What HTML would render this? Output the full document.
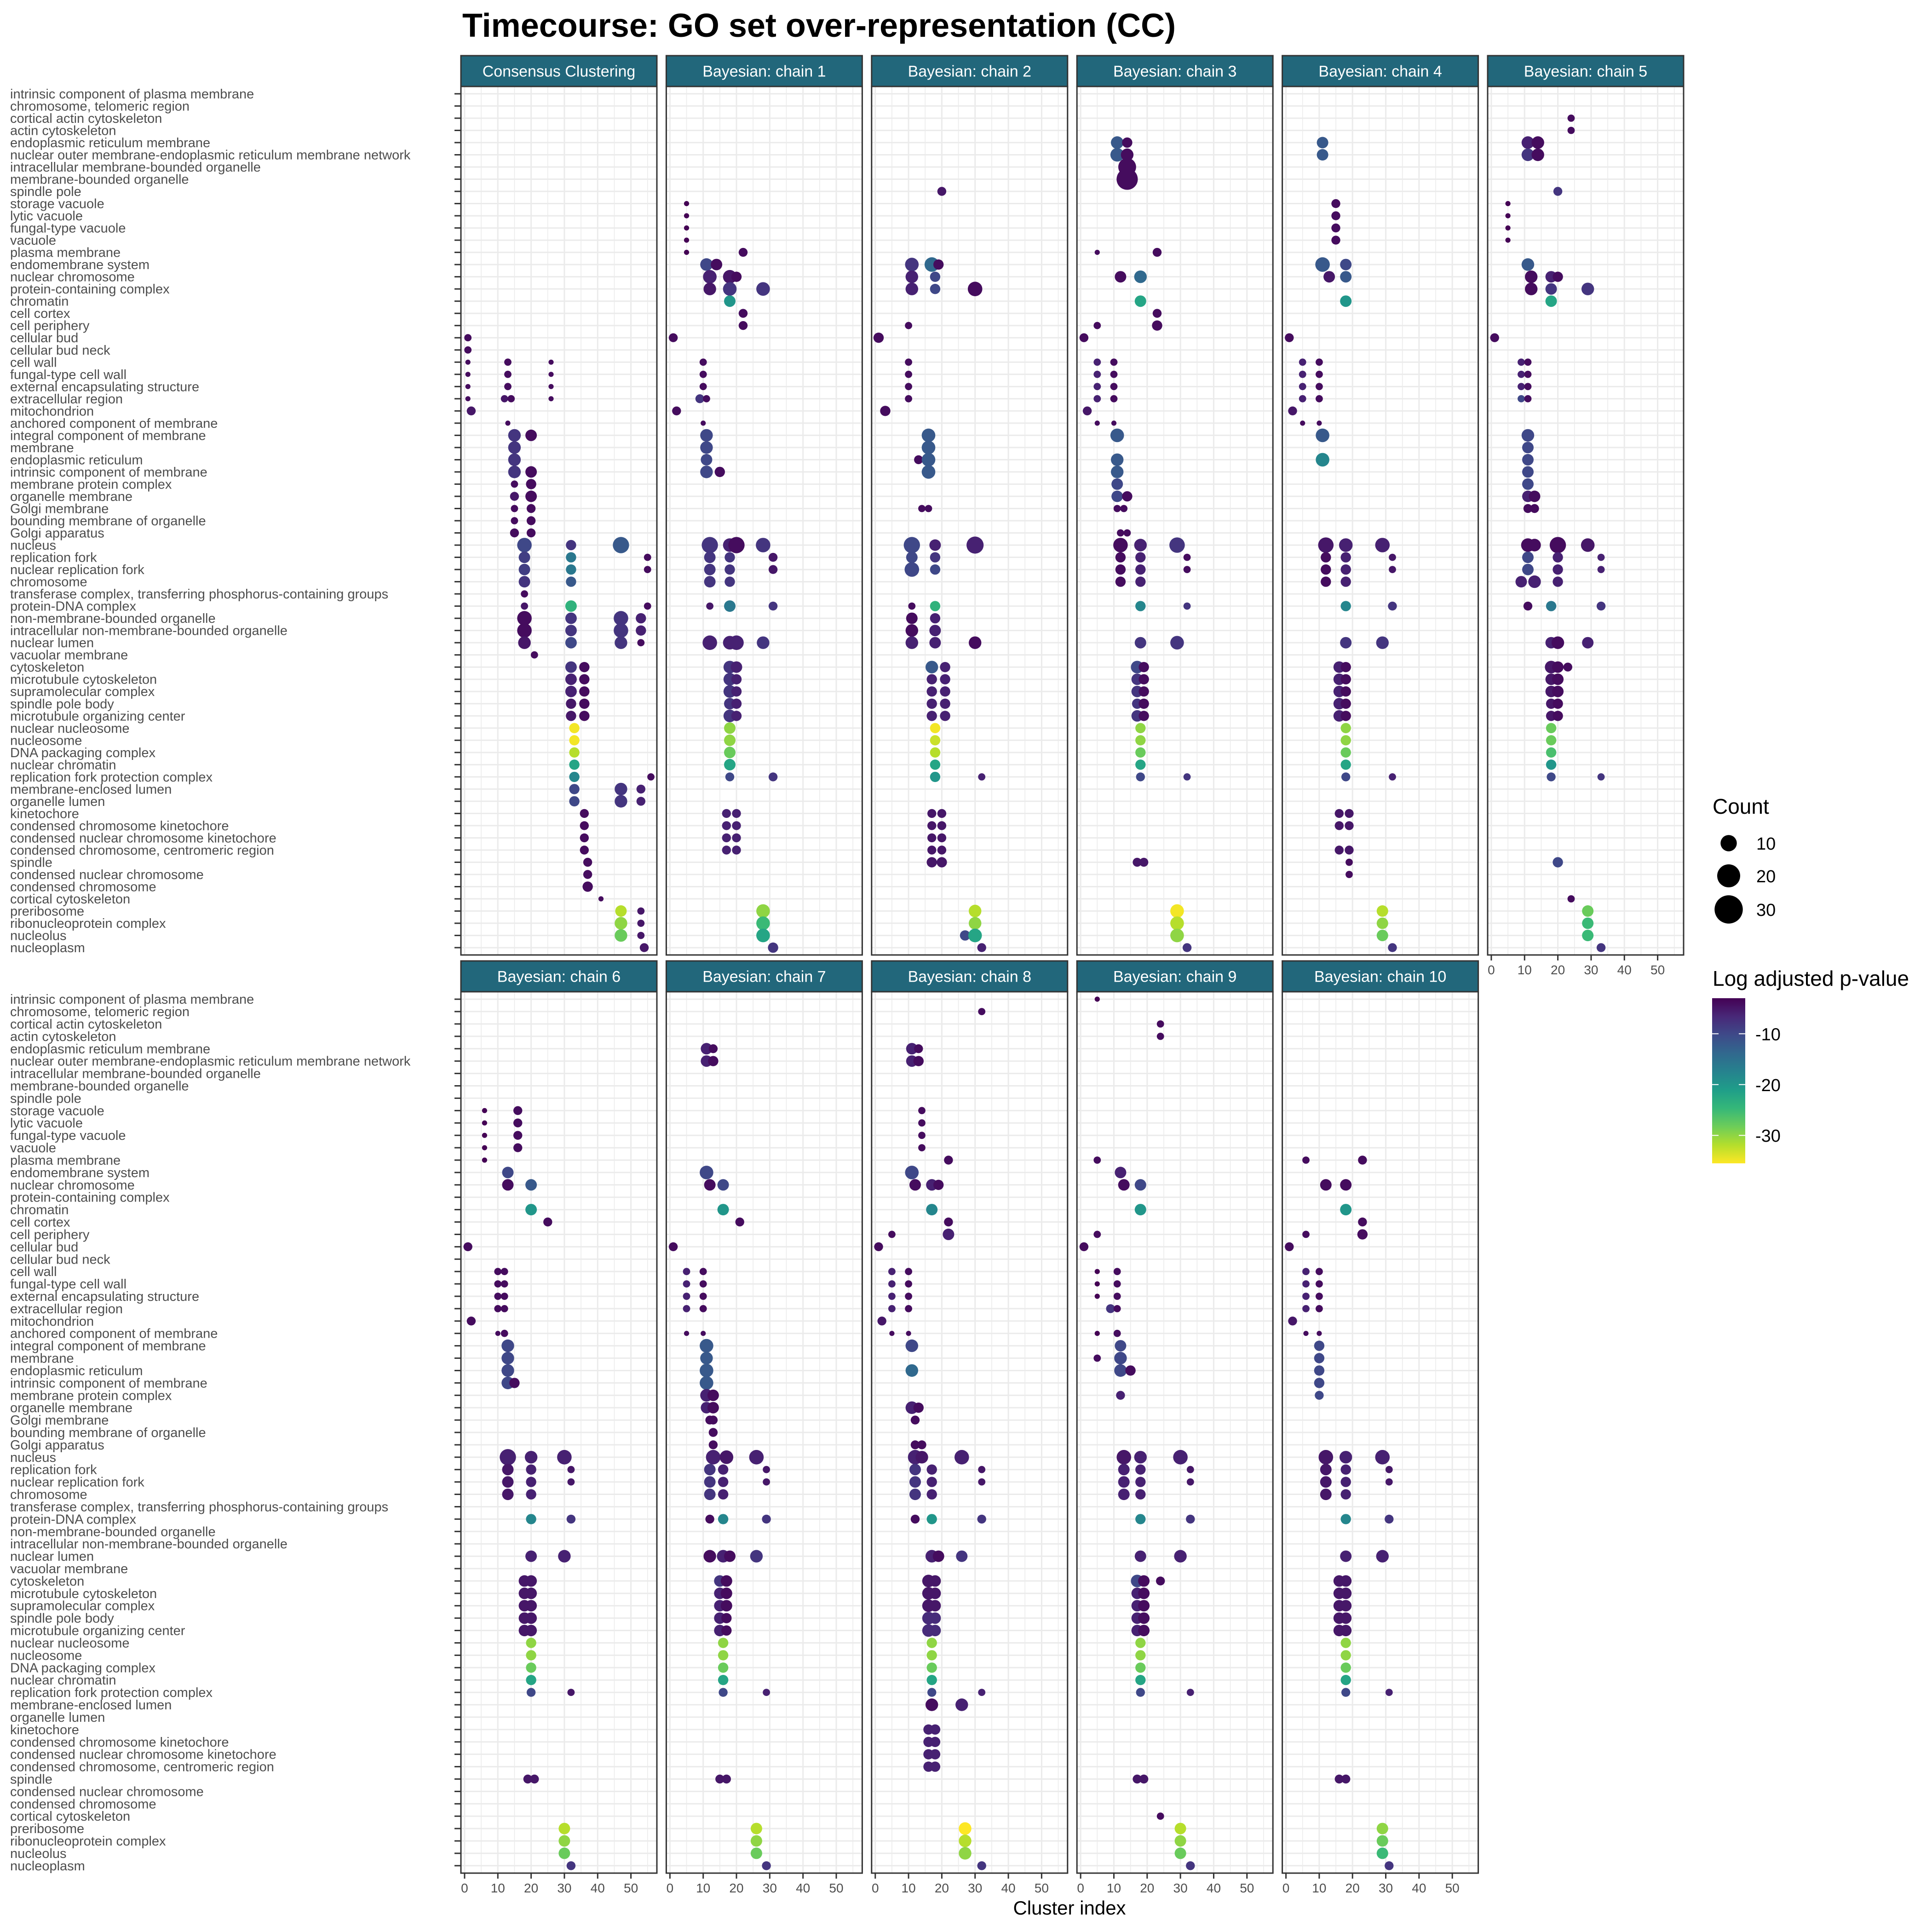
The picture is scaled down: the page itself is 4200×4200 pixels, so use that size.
<!DOCTYPE html>
<html><head><meta charset="utf-8"><style>
html,body{margin:0;padding:0;background:#fff}
svg{display:block}
text{font-family:"Liberation Sans",sans-serif}
</style></head><body>
<svg id="chart" width="4200" height="4200" viewBox="0 0 4200 4200" xmlns="http://www.w3.org/2000/svg">
<rect x="0" y="0" width="4200" height="4200" fill="#fff"/>
<text x="1005" y="80" font-size="72" font-weight="bold" fill="#000">Timecourse: GO set over-representation (CC)</text>
<text x="2325" y="4162" font-size="42" text-anchor="middle" fill="#000">Cluster index</text>
<g id="panels"></g>
<g id="legend"></g>
</svg>
<script>
const categories=["intrinsic component of plasma membrane","chromosome, telomeric region","cortical actin cytoskeleton","actin cytoskeleton","endoplasmic reticulum membrane","nuclear outer membrane-endoplasmic reticulum membrane network","intracellular membrane-bounded organelle","membrane-bounded organelle","spindle pole","storage vacuole","lytic vacuole","fungal-type vacuole","vacuole","plasma membrane","endomembrane system","nuclear chromosome","protein-containing complex","chromatin","cell cortex","cell periphery","cellular bud","cellular bud neck","cell wall","fungal-type cell wall","external encapsulating structure","extracellular region","mitochondrion","anchored component of membrane","integral component of membrane","membrane","endoplasmic reticulum","intrinsic component of membrane","membrane protein complex","organelle membrane","Golgi membrane","bounding membrane of organelle","Golgi apparatus","nucleus","replication fork","nuclear replication fork","chromosome","transferase complex, transferring phosphorus-containing groups","protein-DNA complex","non-membrane-bounded organelle","intracellular non-membrane-bounded organelle","nuclear lumen","vacuolar membrane","cytoskeleton","microtubule cytoskeleton","supramolecular complex","spindle pole body","microtubule organizing center","nuclear nucleosome","nucleosome","DNA packaging complex","nuclear chromatin","replication fork protection complex","membrane-enclosed lumen","organelle lumen","kinetochore","condensed chromosome kinetochore","condensed nuclear chromosome kinetochore","condensed chromosome, centromeric region","spindle","condensed nuclear chromosome","condensed chromosome","cortical cytoskeleton","preribosome","ribonucleoprotein complex","nucleolus","nucleoplasm"];
const panelTitles=["Consensus Clustering","Bayesian: chain 1","Bayesian: chain 2","Bayesian: chain 3","Bayesian: chain 4","Bayesian: chain 5","Bayesian: chain 6","Bayesian: chain 7","Bayesian: chain 8","Bayesian: chain 9","Bayesian: chain 10"];
const xTicks=[0,10,20,30,40,50];
const sizeLegend=[10,20,30];
const colorTicks=[-10,-20,-30];
// [row (1-based category), cluster, count, log adjusted p]
const consensus=[[21,1,2,-4],[22,1,2,-4],[23,1,1,-4],[23,13,2,-4],[23,26,1,-4],[24,1,1,-4],[24,13,2,-4],[24,26,1,-4],[25,1,1,-4],[25,13,2,-4],[25,26,1,-4],[26,1,1,-4],[26,12,2,-5],[26,14,2,-4],[26,26,1,-4],[27,2,3,-5],[28,13,1,-4],[29,15,6,-8],[29,20,5,-4],[30,15,6,-8],[31,15,6,-8],[32,15,6,-8],[32,20,5,-4],[33,15,2,-4],[33,20,4,-4],[34,15,3,-5],[34,20,5,-4],[35,15,2,-4],[35,20,3,-4],[36,15,2,-4],[36,20,3,-4],[37,15,3,-4],[37,20,3,-4],[38,18,8,-10],[38,32,4,-8],[38,47,10,-12],[39,18,5,-9],[39,32,4,-16],[39,55,2,-4],[40,18,5,-9],[40,32,4,-16],[40,55,2,-4],[41,18,5,-8],[41,32,4,-12],[42,18,2,-4],[43,18,2,-5],[43,32,5,-24],[43,55,2,-4],[44,18,8,-4],[44,32,5,-8],[44,47,8,-8],[44,53,4,-6],[45,18,8,-4],[45,32,5,-8],[45,47,8,-8],[45,53,4,-6],[46,18,6,-5],[46,32,5,-10],[46,47,6,-8],[46,53,2,-4],[47,21,2,-4],[48,32,5,-8],[48,36,4,-4],[49,32,5,-6],[49,36,4,-4],[50,32,5,-6],[50,36,4,-4],[51,32,4,-5],[51,36,4,-4],[52,32,4,-5],[52,36,4,-4],[53,33,4,-35],[54,33,4,-35],[55,33,4,-32],[56,33,4,-22],[57,33,4,-18],[57,56,2,-4],[58,33,4,-10],[58,47,6,-8],[58,53,3,-6],[59,33,4,-10],[59,47,6,-8],[59,53,3,-6],[60,36,3,-4],[61,36,3,-4],[62,36,3,-4],[63,36,3,-4],[64,37,3,-4],[65,37,3,-4],[66,37,4,-4],[67,41,1,-4],[68,47,5,-32],[68,53,2,-5],[69,47,6,-30],[69,53,2,-5],[70,47,6,-28],[70,53,2,-5],[71,54,3,-5]];
const chain1=[[10,5,1,-3],[11,5,1,-3],[12,5,1,-3],[13,5,1,-3],[14,5,1,-3],[14,22,3,-4],[15,11,6,-10],[15,14,5,-4],[16,12,7,-6],[16,18,7,-5],[16,20,4,-4],[17,12,6,-5],[17,18,7,-8],[17,28,7,-8],[18,18,5,-20],[19,22,3,-4],[20,22,3,-4],[21,1,3,-4],[23,10,2,-4],[24,10,2,-4],[25,10,2,-4],[26,9,3,-8],[26,11,2,-4],[27,2,3,-4],[28,10,1,-4],[29,11,6,-10],[30,11,6,-10],[31,11,5,-10],[32,11,6,-10],[32,15,4,-4],[38,12,10,-8],[38,18,7,-6],[38,20,10,-4],[38,28,8,-8],[39,12,5,-8],[39,18,4,-8],[39,31,3,-5],[40,12,5,-8],[40,18,4,-8],[40,31,3,-5],[41,12,5,-8],[41,18,4,-8],[43,12,2,-5],[43,18,5,-16],[43,31,3,-8],[46,12,8,-6],[46,18,7,-6],[46,20,8,-6],[46,28,6,-8],[48,18,6,-8],[48,20,5,-6],[49,18,6,-8],[49,20,4,-6],[50,18,6,-8],[50,20,4,-6],[51,18,5,-8],[51,20,4,-6],[52,18,6,-8],[52,20,4,-6],[53,18,5,-30],[54,18,5,-30],[55,18,5,-28],[56,18,5,-22],[57,18,3,-10],[57,31,3,-8],[60,17,3,-6],[60,20,3,-6],[61,17,3,-6],[61,20,3,-6],[62,17,3,-6],[62,20,3,-6],[63,17,3,-6],[63,20,3,-6],[68,28,7,-30],[69,28,7,-25],[70,28,7,-22],[71,31,4,-8]];
const chain2=[[9,20,3,-5],[15,11,7,-8],[15,17,8,-14],[15,19,4,-4],[16,11,6,-6],[16,18,4,-10],[17,11,6,-6],[17,18,4,-10],[17,30,8,-4],[20,10,2,-4],[21,1,4,-4],[23,10,2,-4],[24,10,2,-4],[25,10,2,-4],[26,10,2,-4],[27,3,4,-4],[29,16,7,-12],[30,16,7,-12],[31,13,3,-4],[31,16,7,-12],[32,16,7,-12],[35,14,2,-4],[35,16,2,-4],[38,11,10,-10],[38,18,5,-6],[38,30,11,-6],[39,11,5,-10],[39,18,4,-8],[40,11,8,-10],[40,18,4,-10],[43,11,2,-4],[43,18,4,-24],[44,11,5,-4],[44,18,4,-6],[45,11,6,-4],[45,18,5,-6],[46,11,6,-6],[46,18,5,-6],[46,30,6,-4],[48,17,6,-12],[48,21,4,-6],[49,17,4,-6],[49,21,4,-6],[50,17,4,-6],[50,21,4,-6],[51,17,4,-6],[51,21,4,-6],[52,17,4,-6],[52,21,4,-6],[53,18,4,-35],[54,18,4,-33],[55,18,4,-32],[56,18,4,-22],[57,18,4,-20],[57,32,2,-6],[60,17,3,-5],[60,20,3,-5],[61,17,3,-5],[61,20,3,-5],[62,17,3,-5],[62,20,3,-5],[63,17,3,-5],[63,20,3,-5],[64,17,4,-5],[64,20,4,-5],[68,30,6,-32],[69,30,6,-30],[70,27,4,-10],[70,30,7,-22],[71,32,3,-6]];
const chain3=[[5,11,6,-12],[5,14,4,-4],[6,11,7,-12],[6,14,6,-4],[7,14,12,-4],[8,14,17,-4],[14,5,1,-4],[14,23,3,-4],[16,12,5,-4],[16,18,6,-14],[18,18,5,-22],[19,23,3,-4],[20,5,2,-4],[20,23,4,-4],[21,1,3,-4],[23,5,2,-6],[23,10,2,-4],[24,5,2,-6],[24,10,2,-4],[25,5,2,-6],[25,10,2,-4],[26,5,2,-6],[26,10,2,-4],[27,2,3,-5],[28,5,1,-4],[28,10,1,-4],[29,11,7,-12],[31,11,6,-12],[32,11,6,-12],[33,11,5,-10],[34,11,5,-10],[34,14,4,-4],[35,11,2,-4],[35,13,2,-4],[37,12,2,-4],[37,14,2,-4],[38,12,8,-4],[38,18,6,-6],[38,29,9,-8],[39,12,4,-4],[39,18,4,-6],[39,32,2,-4],[40,12,4,-4],[40,18,4,-6],[40,32,2,-4],[41,12,4,-4],[41,18,4,-6],[43,18,4,-18],[43,32,2,-8],[46,18,5,-8],[46,29,7,-8],[48,17,6,-10],[48,19,4,-4],[49,17,5,-8],[49,19,4,-4],[50,17,5,-8],[50,19,4,-4],[51,17,4,-8],[51,19,4,-4],[52,17,5,-8],[52,19,4,-4],[53,18,4,-30],[54,18,4,-30],[55,18,4,-28],[56,18,4,-22],[57,18,3,-10],[57,32,2,-8],[64,17,3,-5],[64,19,3,-5],[68,29,7,-35],[69,29,7,-32],[70,29,7,-30],[71,32,3,-8]];
const chain4=[[5,11,5,-12],[6,11,5,-12],[10,15,3,-4],[11,15,3,-4],[12,15,3,-4],[13,15,3,-4],[15,11,8,-12],[15,18,5,-10],[16,13,5,-5],[16,18,5,-12],[18,18,5,-20],[21,1,3,-4],[23,5,2,-6],[23,10,2,-4],[24,5,2,-6],[24,10,2,-4],[25,5,2,-6],[25,10,2,-4],[26,5,2,-6],[26,10,2,-4],[27,2,3,-5],[28,5,1,-4],[28,10,1,-4],[29,11,7,-12],[31,11,7,-18],[38,12,9,-5],[38,18,7,-6],[38,29,8,-6],[39,12,4,-4],[39,18,4,-6],[39,32,2,-5],[40,12,4,-4],[40,18,4,-6],[40,32,2,-5],[41,12,4,-4],[41,18,4,-6],[43,18,4,-18],[43,32,3,-8],[46,18,5,-8],[46,29,6,-8],[48,16,5,-6],[48,18,4,-4],[49,16,5,-6],[49,18,4,-4],[50,16,5,-6],[50,18,4,-4],[51,16,5,-6],[51,18,4,-4],[52,16,5,-6],[52,18,4,-4],[53,18,4,-30],[54,18,4,-30],[55,18,4,-28],[56,18,4,-22],[57,18,3,-10],[57,32,2,-6],[60,16,3,-5],[60,19,3,-5],[61,16,3,-5],[61,19,3,-5],[63,16,3,-5],[63,19,3,-5],[64,19,2,-4],[65,19,2,-4],[68,29,5,-32],[69,29,5,-30],[70,29,5,-28],[71,32,3,-8]];
const chain5=[[3,24,2,-4],[4,24,2,-4],[5,11,6,-6],[5,14,6,-4],[6,11,6,-8],[6,14,6,-4],[9,20,3,-8],[10,5,1,-3],[11,5,1,-3],[12,5,1,-3],[13,5,1,-3],[15,11,6,-12],[16,12,6,-4],[16,18,5,-6],[16,20,4,-4],[17,12,6,-4],[17,18,5,-8],[17,29,6,-8],[18,18,5,-22],[21,1,3,-4],[23,9,2,-6],[23,11,2,-4],[24,9,2,-6],[24,11,2,-4],[25,9,2,-6],[25,11,2,-4],[26,9,2,-10],[26,11,2,-4],[29,11,6,-10],[30,11,5,-10],[31,11,5,-10],[32,11,5,-10],[33,11,5,-10],[34,11,5,-6],[34,13,5,-4],[35,11,3,-4],[35,13,3,-4],[38,11,7,-4],[38,13,6,-4],[38,20,10,-4],[38,29,7,-5],[39,11,5,-10],[39,20,4,-6],[39,33,2,-6],[40,11,5,-10],[40,20,4,-6],[40,33,2,-6],[41,9,5,-6],[41,13,6,-6],[41,20,4,-6],[43,11,3,-4],[43,18,4,-16],[43,33,3,-8],[46,18,5,-6],[46,20,6,-4],[46,29,5,-6],[48,18,6,-5],[48,20,5,-4],[48,23,3,-4],[49,18,5,-5],[49,20,5,-4],[50,18,5,-5],[50,20,5,-4],[51,18,4,-5],[51,20,4,-4],[52,18,4,-5],[52,20,4,-4],[53,18,4,-28],[54,18,4,-28],[55,18,4,-26],[56,18,4,-20],[57,18,3,-10],[57,33,2,-8],[64,20,4,-10],[67,24,2,-4],[68,29,5,-28],[69,29,5,-25],[70,29,5,-25],[71,33,3,-8]];
const chain6=[[10,6,1,-3],[10,16,3,-4],[11,6,1,-3],[11,16,3,-4],[12,6,1,-3],[12,16,3,-4],[13,6,1,-3],[13,16,3,-4],[14,6,1,-3],[15,13,5,-10],[16,13,5,-4],[16,20,5,-12],[18,20,5,-20],[19,25,3,-4],[21,1,3,-4],[23,10,2,-4],[23,12,2,-4],[24,10,2,-4],[24,12,2,-4],[25,10,2,-4],[25,12,2,-4],[26,10,2,-4],[26,12,2,-4],[27,2,3,-4],[28,10,1,-4],[28,12,2,-4],[29,13,6,-10],[30,13,6,-10],[31,13,6,-10],[32,13,6,-10],[32,15,4,-4],[38,13,10,-6],[38,20,6,-6],[38,30,8,-6],[39,13,5,-5],[39,20,4,-6],[39,32,2,-5],[40,13,5,-5],[40,20,4,-6],[40,32,2,-5],[41,13,5,-5],[41,20,4,-6],[43,20,4,-18],[43,32,3,-8],[46,20,5,-6],[46,30,6,-6],[48,18,5,-5],[48,20,5,-5],[49,18,5,-5],[49,20,5,-5],[50,18,5,-5],[50,20,5,-5],[51,18,5,-5],[51,20,5,-5],[52,18,5,-5],[52,20,5,-5],[53,20,4,-30],[54,20,4,-30],[55,20,4,-28],[56,20,4,-22],[57,20,3,-10],[57,32,2,-5],[64,19,3,-5],[64,21,3,-5],[68,30,5,-32],[69,30,5,-30],[70,30,5,-28],[71,32,3,-8]];
const chain7=[[5,11,5,-6],[5,13,3,-4],[6,11,5,-6],[6,13,4,-4],[15,11,7,-10],[16,12,5,-4],[16,16,5,-10],[18,16,5,-20],[19,21,3,-4],[21,1,3,-4],[23,5,2,-6],[23,10,2,-4],[24,5,2,-6],[24,10,2,-4],[25,5,2,-6],[25,10,2,-4],[26,5,2,-6],[26,10,2,-4],[28,5,1,-4],[28,10,1,-4],[29,11,7,-12],[30,11,6,-12],[31,11,7,-12],[32,11,7,-12],[33,11,6,-6],[33,13,5,-4],[34,11,5,-6],[34,13,5,-4],[35,12,3,-4],[35,13,3,-4],[36,13,3,-4],[37,13,3,-4],[38,13,8,-6],[38,17,7,-5],[38,26,8,-6],[39,12,5,-8],[39,16,4,-6],[39,29,2,-5],[40,12,5,-8],[40,16,4,-6],[40,29,2,-5],[41,12,5,-8],[41,16,4,-6],[43,12,3,-4],[43,16,4,-18],[43,29,3,-8],[46,12,6,-4],[46,16,6,-6],[46,18,5,-4],[46,26,6,-8],[48,15,5,-8],[48,17,5,-4],[49,15,5,-6],[49,17,5,-4],[50,15,5,-6],[50,17,5,-4],[51,15,5,-6],[51,17,4,-4],[52,15,5,-6],[52,17,4,-4],[53,16,4,-30],[54,16,4,-30],[55,16,4,-28],[56,16,4,-22],[57,16,3,-10],[57,29,2,-6],[64,15,3,-5],[64,17,3,-5],[68,26,5,-32],[69,26,5,-30],[70,26,5,-28],[71,29,3,-8]];
const chain8=[[2,32,2,-4],[5,11,5,-6],[5,13,3,-4],[6,11,5,-6],[6,13,4,-4],[10,14,2,-4],[11,14,2,-4],[12,14,2,-4],[13,14,2,-4],[14,22,3,-4],[15,11,7,-10],[16,12,5,-4],[16,17,5,-6],[16,19,4,-4],[18,17,5,-18],[19,22,3,-4],[20,5,2,-4],[20,22,5,-6],[21,1,3,-4],[23,5,2,-6],[23,10,2,-4],[24,5,2,-6],[24,10,2,-4],[25,5,2,-6],[25,10,2,-4],[26,5,2,-6],[26,10,2,-4],[27,2,3,-5],[28,5,1,-4],[28,10,1,-4],[29,11,6,-10],[31,11,6,-14],[34,11,6,-6],[34,13,4,-4],[35,12,3,-4],[37,12,3,-4],[37,14,3,-4],[38,12,8,-6],[38,14,6,-5],[38,26,8,-6],[39,12,5,-8],[39,17,4,-6],[39,32,2,-5],[40,12,5,-8],[40,17,4,-6],[40,32,2,-5],[41,12,5,-8],[41,17,4,-6],[43,12,3,-4],[43,17,4,-20],[43,32,3,-8],[46,17,6,-6],[46,19,5,-4],[46,26,5,-8],[48,16,6,-5],[48,18,5,-5],[49,16,6,-5],[49,18,5,-5],[50,16,6,-5],[50,18,5,-5],[51,16,6,-7],[51,18,5,-7],[52,16,6,-7],[52,18,5,-7],[53,17,4,-30],[54,17,4,-30],[55,17,4,-28],[56,17,4,-22],[57,17,3,-10],[57,32,2,-6],[58,17,6,-4],[58,26,6,-6],[60,16,4,-6],[60,18,4,-6],[61,16,4,-6],[61,18,4,-6],[62,16,4,-6],[62,18,4,-6],[63,16,4,-6],[63,18,4,-6],[68,27,6,-37],[69,27,6,-32],[70,27,6,-30],[71,32,3,-8]];
const chain9=[[1,5,1,-3],[3,24,2,-4],[4,24,2,-4],[14,5,2,-4],[15,12,5,-6],[16,13,5,-4],[16,18,5,-10],[18,18,5,-20],[20,5,2,-4],[21,1,3,-4],[23,5,1,-3],[23,11,2,-4],[24,5,1,-3],[24,11,2,-4],[25,5,1,-3],[25,11,2,-4],[26,9,3,-8],[26,11,2,-4],[28,5,1,-3],[28,11,2,-4],[29,12,5,-10],[30,5,2,-4],[30,12,6,-10],[31,12,6,-10],[31,15,4,-4],[33,12,3,-6],[38,13,8,-5],[38,18,6,-6],[38,30,8,-6],[39,13,5,-6],[39,18,4,-6],[39,33,2,-5],[40,13,5,-6],[40,18,4,-6],[40,33,2,-5],[41,13,5,-6],[41,18,4,-6],[43,18,4,-18],[43,33,3,-8],[46,18,5,-6],[46,30,6,-6],[48,17,6,-10],[48,19,5,-4],[48,24,3,-4],[49,17,5,-6],[49,19,5,-4],[50,17,5,-6],[50,19,5,-4],[51,17,5,-6],[51,19,5,-4],[52,17,5,-6],[52,19,5,-4],[53,18,4,-30],[54,18,4,-30],[55,18,4,-28],[56,18,4,-22],[57,18,3,-10],[57,33,2,-6],[64,17,3,-5],[64,19,3,-5],[67,24,2,-4],[68,30,5,-32],[69,30,5,-30],[70,30,5,-28],[71,33,3,-8]];
const chain10=[[14,6,2,-4],[14,23,3,-4],[16,12,5,-4],[16,18,5,-4],[18,18,5,-20],[19,23,3,-4],[20,6,2,-4],[20,23,4,-4],[21,1,3,-4],[23,6,2,-6],[23,10,2,-4],[24,6,2,-6],[24,10,2,-4],[25,6,2,-6],[25,10,2,-4],[26,6,2,-6],[26,10,2,-4],[27,2,3,-5],[28,6,1,-4],[28,10,1,-4],[29,10,4,-10],[30,10,4,-10],[31,10,4,-10],[32,10,4,-10],[33,10,3,-10],[38,12,8,-5],[38,18,6,-6],[38,29,8,-6],[39,12,5,-5],[39,18,4,-6],[39,31,2,-5],[40,12,5,-5],[40,18,4,-6],[40,31,2,-5],[41,12,5,-5],[41,18,4,-6],[43,18,4,-18],[43,31,3,-8],[46,18,5,-6],[46,29,6,-6],[48,16,5,-5],[48,18,5,-5],[49,16,5,-5],[49,18,5,-5],[50,16,5,-5],[50,18,5,-5],[51,16,5,-5],[51,18,5,-5],[52,16,5,-5],[52,18,5,-5],[53,18,4,-30],[54,18,4,-30],[55,18,4,-28],[56,18,4,-22],[57,18,3,-10],[57,31,2,-6],[64,16,3,-5],[64,18,3,-5],[68,29,5,-30],[69,29,5,-28],[70,29,5,-25],[71,31,3,-8]];
const panelData=[consensus,chain1,chain2,chain3,chain4,chain5,chain6,chain7,chain8,chain9,chain10];

const NS="http://www.w3.org/2000/svg";
const svg=document.getElementById('panels');
const legend=document.getElementById('legend');
function mk(tag,attrs,parent){const e=document.createElementNS(NS,tag);for(const k in attrs)e.setAttribute(k,attrs[k]);parent.appendChild(e);return e;}
const VIR=["#440154","#482878","#3E4A89","#31688E","#26828E","#1F9E89","#35B779","#6DCD59","#B4DE2C","#FDE725"];
const PMAX=-3,PMIN=-35.5;
function hex(h){return [parseInt(h.slice(1,3),16),parseInt(h.slice(3,5),16),parseInt(h.slice(5,7),16)];}
function color(v){let t=(PMAX-v)/(PMAX-PMIN);t=Math.max(0,Math.min(1,t));const f=t*(VIR.length-1);const i=Math.min(VIR.length-2,Math.floor(f));const u=f-i;const a=hex(VIR[i]),b=hex(VIR[i+1]);return `rgb(${a.map((c,k)=>Math.round(c+(b[k]-c)*u)).join(',')})`;}
function rad(c){return 5.6*Math.sqrt(c);}
const PW=426,XMIN=-1.1,XMAX=57.8;
const rowsLayout=[{st:121,top:188,bot:2076},{st:2089,top:2156,bot:4072}];
function colLeft(j){return 1002+j*446.4;}

panelTitles.forEach((title,p)=>{
  const r=p<6?0:1, j=p<6?p:p-6;
  const L=colLeft(j), R=rowsLayout[r];
  const H=R.bot-R.top;
  const n=categories.length;
  const unit=H/(n-1+1.2);
  const y=i=>R.top+(0.6+(i-1))*unit;
  const x=v=>L+(v-XMIN)/(XMAX-XMIN)*PW;
  const g=mk('g',{},svg);
  
  
  const bg=mk('rect',{x:L,y:R.top,width:PW,height:H,fill:'#fff'},g);
  
  
  for(let v=0;v<=55;v+=5){const ln=mk('line',{x1:x(v),x2:x(v),y1:R.top,y2:R.bot,stroke:'#ebebeb','stroke-width':v%10==0?3:1.6},g);
    
    }
  for(let i=1;i<=n;i++){const ln=mk('line',{x1:L,x2:L+PW,y1:y(i),y2:y(i),stroke:'#ebebeb','stroke-width':3},g);
    
    }
  panelData[p].forEach(d=>{
    const c=mk('circle',{cx:x(d[1]).toFixed(1),cy:y(d[0]).toFixed(1),r:rad(d[2]).toFixed(1),fill:color(d[3])},g);
    
    
  });
  const bd=mk('rect',{x:L,y:R.top,width:PW,height:H,fill:'none',stroke:'#333','stroke-width':3},g);
  
  
  const st=mk('rect',{x:L,y:R.st,width:PW,height:R.top-R.st,fill:'#22677b',stroke:'#333','stroke-width':3},g);
  
  
  const stt=mk('text',{x:L+PW/2,y:(R.st+R.top)/2+12,'font-size':34,fill:'#fff','text-anchor':'middle'},g);
  stt.textContent=title;
  
  
  if(j===0){
    for(let i=1;i<=n;i++){
      const tk=mk('line',{x1:L-14,x2:L,y1:y(i),y2:y(i),stroke:'#333','stroke-width':3},g);
      
      
      const t=mk('text',{x:22,y:y(i)+10,'font-size':29,fill:'#4d4d4d'},g);
      t.textContent=categories[i-1];
      
      
    }
  }
  if(r===1||p===5){
    xTicks.forEach(v=>{
      const tk=mk('line',{x1:x(v),x2:x(v),y1:R.bot,y2:R.bot+12,stroke:'#333','stroke-width':3},g);
      
      
      const t=mk('text',{x:x(v),y:R.bot+42,'font-size':28,fill:'#4d4d4d','text-anchor':'middle'},g);
      t.textContent=v;
      
      
    });
  }
});

// legends
const lt=mk('text',{x:3723,y:1769,'font-size':46,fill:'#000'},legend);
lt.textContent='Count';


const sy=[1833,1904,1977];
sizeLegend.forEach((v,i)=>{
  const c=mk('circle',{cx:3758,cy:sy[i],r:rad(v).toFixed(1),fill:'#000'},legend);
  
  
  const t=mk('text',{x:3818,y:sy[i]+14,'font-size':38,fill:'#000'},legend);
  t.textContent=v;
  
  
});
const ct=mk('text',{x:3723,y:2143,'font-size':46,fill:'#000'},legend);
ct.textContent='Log adjusted p-value';


const defs=mk('defs',{},legend);
const lg=mk('linearGradient',{id:'vir',x1:0,y1:0,x2:0,y2:1},defs);
VIR.forEach((c,i)=>mk('stop',{offset:(i/(VIR.length-1)),'stop-color':c},lg));
const CB={x:3722,y:2170,w:72,h:359};
const bar=mk('rect',{x:CB.x,y:CB.y,width:CB.w,height:CB.h,fill:'url(#vir)'},legend);


colorTicks.forEach(v=>{
  const yy=CB.y+(PMAX-v)/(PMAX-PMIN)*CB.h;
  mk('line',{x1:CB.x,x2:CB.x+14,y1:yy,y2:yy,stroke:'#fff','stroke-width':2},legend);
  mk('line',{x1:CB.x+CB.w-14,x2:CB.x+CB.w,y1:yy,y2:yy,stroke:'#fff','stroke-width':2},legend);
  const t=mk('text',{x:3816,y:yy+14,'font-size':38,fill:'#000'},legend);
  t.textContent=v;
  
  
});
</script>
</body></html>
